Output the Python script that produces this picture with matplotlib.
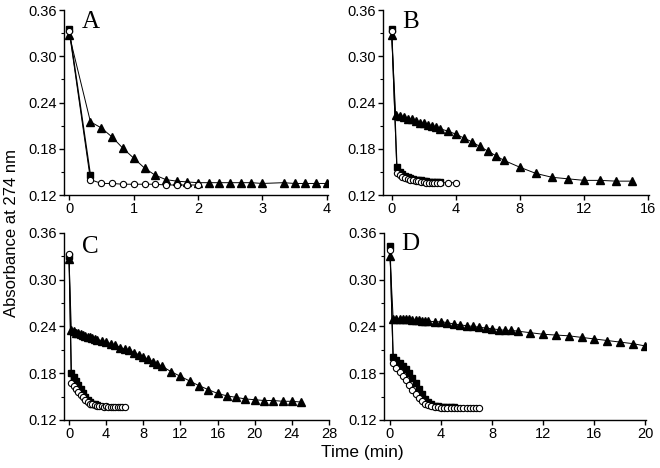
import matplotlib
matplotlib.use('Agg')
import matplotlib.pyplot as plt
from matplotlib.ticker import MultipleLocator

plt.rcParams['font.family'] = ['Liberation Sans', 'DejaVu Sans']

# ---- panel A ----
tA_sq = [0, 0.33]
A_sq = [0.336, 0.146]
tA_circ = [0, 0.33, 0.5, 0.67, 0.83, 1.0, 1.17, 1.33, 1.5, 1.67, 1.83, 2.0]
A_circ = [0.333, 0.140, 0.135, 0.135, 0.134, 0.134, 0.134, 0.134, 0.133, 0.133, 0.133, 0.133]
tA_tri = [0, 0.33, 0.5, 0.67, 0.83, 1.0, 1.17, 1.33, 1.5, 1.67, 1.83, 2.0, 2.17, 2.33,
          2.5, 2.67, 2.83, 3.0, 3.33, 3.5, 3.67, 3.83, 4.0]
A_tri = [0.328, 0.215, 0.207, 0.195, 0.181, 0.168, 0.155, 0.146, 0.140, 0.138, 0.137, 0.136,
         0.136, 0.136, 0.136, 0.136, 0.136, 0.135, 0.136, 0.135, 0.135, 0.135, 0.135]

# ---- panel B ----
tB_sq = [0, 0.33, 0.5, 0.67, 0.83, 1.0, 1.17, 1.33, 1.5, 1.67, 1.83, 2.0, 2.17, 2.33, 2.5, 2.67, 2.83, 3.0]
B_sq = [0.336, 0.156, 0.150, 0.147, 0.145, 0.143, 0.142, 0.141, 0.140, 0.139, 0.139, 0.138,
        0.138, 0.137, 0.137, 0.137, 0.137, 0.137]
tB_circ = [0, 0.33, 0.5, 0.67, 0.83, 1.0, 1.17, 1.33, 1.5, 1.67, 1.83, 2.0, 2.17, 2.33, 2.5,
           2.67, 2.83, 3.0, 3.5, 4.0]
B_circ = [0.333, 0.149, 0.146, 0.144, 0.142, 0.141, 0.140, 0.139, 0.138, 0.138, 0.137, 0.137,
          0.136, 0.136, 0.136, 0.136, 0.136, 0.136, 0.136, 0.136]
tB_tri = [0, 0.25, 0.5, 0.75, 1.0, 1.25, 1.5, 1.75, 2.0, 2.25, 2.5, 2.75, 3.0, 3.5, 4.0, 4.5,
          5.0, 5.5, 6.0, 6.5, 7.0, 8.0, 9.0, 10.0, 11.0, 12.0, 13.0, 14.0, 15.0]
B_tri = [0.328, 0.224, 0.223, 0.221, 0.219, 0.218, 0.216, 0.214, 0.213, 0.211, 0.209, 0.208,
         0.206, 0.203, 0.199, 0.194, 0.189, 0.183, 0.177, 0.171, 0.165, 0.156, 0.148, 0.143,
         0.141, 0.139, 0.139, 0.138, 0.138]

# ---- panel C ----
tC_sq = [0, 0.25, 0.5, 0.75, 1.0, 1.25, 1.5, 1.75, 2.0, 2.25, 2.5, 2.75, 3.0]
C_sq = [0.331, 0.180, 0.175, 0.170, 0.165, 0.160, 0.155, 0.150, 0.146, 0.143, 0.141, 0.140, 0.139]
tC_circ = [0, 0.25, 0.5, 0.75, 1.0, 1.25, 1.5, 1.75, 2.0, 2.25, 2.5, 2.75, 3.0, 3.25, 3.5,
           3.75, 4.0, 4.25, 4.5, 4.75, 5.0, 5.25, 5.5, 5.75, 6.0]
C_circ = [0.333, 0.167, 0.163, 0.160, 0.156, 0.152, 0.149, 0.146, 0.143, 0.141, 0.140, 0.139,
          0.138, 0.138, 0.138, 0.137, 0.138, 0.137, 0.137, 0.137, 0.137, 0.137, 0.137, 0.137, 0.137]
tC_tri = [0, 0.25, 0.5, 0.75, 1.0, 1.25, 1.5, 1.75, 2.0, 2.25, 2.5, 2.75, 3.0, 3.5, 4.0, 4.5,
          5.0, 5.5, 6.0, 6.5, 7.0, 7.5, 8.0, 8.5, 9.0, 9.5, 10.0, 11, 12, 13, 14, 15, 16, 17,
          18, 19, 20, 21, 22, 23, 24, 25]
C_tri = [0.326, 0.235, 0.234, 0.232, 0.231, 0.230, 0.229, 0.228, 0.227, 0.226, 0.225, 0.224,
         0.223, 0.222, 0.220, 0.218, 0.216, 0.213, 0.211, 0.210, 0.206, 0.204, 0.201, 0.198,
         0.195, 0.192, 0.189, 0.182, 0.176, 0.170, 0.164, 0.159, 0.154, 0.151, 0.149, 0.147,
         0.146, 0.145, 0.145, 0.144, 0.144, 0.143]

# ---- panel D ----
tD_sq = [0, 0.25, 0.5, 0.75, 1.0, 1.25, 1.5, 1.75, 2.0, 2.25, 2.5, 2.75, 3.0, 3.25, 3.5,
         3.75, 4.0, 4.25, 4.5, 4.75, 5.0]
D_sq = [0.343, 0.201, 0.197, 0.193, 0.189, 0.185, 0.180, 0.174, 0.167, 0.160, 0.153, 0.147,
        0.143, 0.140, 0.138, 0.138, 0.137, 0.137, 0.137, 0.137, 0.137]
tD_circ = [0, 0.25, 0.5, 0.75, 1.0, 1.25, 1.5, 1.75, 2.0, 2.25, 2.5, 2.75, 3.0, 3.25, 3.5,
           3.75, 4.0, 4.25, 4.5, 4.75, 5.0, 5.25, 5.5, 5.75, 6.0, 6.25, 6.5, 6.75, 7.0]
D_circ = [0.338, 0.193, 0.187, 0.182, 0.177, 0.171, 0.165, 0.159, 0.153, 0.148, 0.144, 0.141,
          0.139, 0.138, 0.137, 0.137, 0.136, 0.136, 0.136, 0.136, 0.136, 0.136, 0.136, 0.136,
          0.136, 0.136, 0.136, 0.136, 0.136]
tD_tri = [0, 0.25, 0.5, 0.75, 1.0, 1.25, 1.5, 1.75, 2.0, 2.25, 2.5, 2.75, 3.0, 3.5, 4.0, 4.5,
          5.0, 5.5, 6.0, 6.5, 7.0, 7.5, 8.0, 8.5, 9.0, 9.5, 10.0, 11, 12, 13, 14, 15, 16, 17,
          18, 19, 20]
D_tri = [0.330, 0.250, 0.250, 0.250, 0.249, 0.249, 0.249, 0.248, 0.248, 0.248, 0.247, 0.247,
         0.247, 0.246, 0.246, 0.245, 0.243, 0.242, 0.241, 0.240, 0.239, 0.238, 0.237, 0.236,
         0.235, 0.235, 0.234, 0.232, 0.230, 0.229, 0.228, 0.226, 0.224, 0.222, 0.220, 0.218, 0.215]

panels = [
    ('A', [0.0970, 0.5833, 0.4000, 0.3953], (-0.08, 4.02), 1, (tA_sq, A_sq), (tA_circ, A_circ), (tA_tri, A_tri)),
    ('B', [0.5803, 0.5833, 0.4030, 0.3953], (-0.54, 16.05), 4, (tB_sq, B_sq), (tB_circ, B_circ), (tB_tri, B_tri)),
    ('C', [0.0970, 0.1026, 0.4015, 0.3996], (-0.54, 28.0), 4, (tC_sq, C_sq), (tC_circ, C_circ), (tC_tri, C_tri)),
    ('D', [0.5818, 0.1026, 0.3970, 0.3996], (-0.47, 20.05), 4, (tD_sq, D_sq), (tD_circ, D_circ), (tD_tri, D_tri)),
]
letter_pos = {'A': (0.124, 0.940), 'B': (0.609, 0.940), 'C': (0.124, 0.459), 'D': (0.608, 0.465)}

fig = plt.figure(figsize=(6.6, 4.68), dpi=100)

for name, rect, xlim, xstep, sq, circ, tri in panels:
    ax = fig.add_axes(rect)
    ax.plot(tri[0], tri[1], '-', color='black', lw=0.7, marker='^', ms=6,
            mfc='black', mec='black', zorder=2)
    ax.plot(sq[0], sq[1], '-', color='black', lw=0.9, marker='s', ms=4.3,
            mfc='black', mec='black', zorder=3)
    ax.plot(circ[0], circ[1], '-', color='black', lw=0.7, marker='o', ms=4.5,
            mfc='white', mec='black', mew=0.8, zorder=4)
    ax.set_xlim(*xlim)
    ax.set_ylim(0.12, 0.36)
    ax.xaxis.set_major_locator(MultipleLocator(xstep))
    ax.yaxis.set_major_locator(MultipleLocator(0.06))
    ax.yaxis.set_minor_locator(MultipleLocator(0.03))
    ax.yaxis.set_major_formatter(plt.FuncFormatter(lambda v, p: f'{v:.2f}'))
    ax.spines['top'].set_visible(False)
    ax.spines['right'].set_visible(False)
    for s in ('left', 'bottom'):
        ax.spines[s].set_linewidth(1.0)
    ax.tick_params(which='major', direction='out', length=3.5, width=1.0, labelsize=10.5, pad=1.5)
    ax.tick_params(which='minor', direction='out', length=2, width=0.8)
    fig.text(letter_pos[name][0], letter_pos[name][1], name, fontsize=18,
             family=['Liberation Serif', 'DejaVu Serif'], ha='left', va='baseline')

fig.text(0.018, 0.502, 'Absorbance at 274 nm', rotation=90, ha='center', va='center', fontsize=12)
fig.text(0.549, 0.034, 'Time (min)', ha='center', va='center', fontsize=12.5)

fig.savefig('out.png', dpi=100)
